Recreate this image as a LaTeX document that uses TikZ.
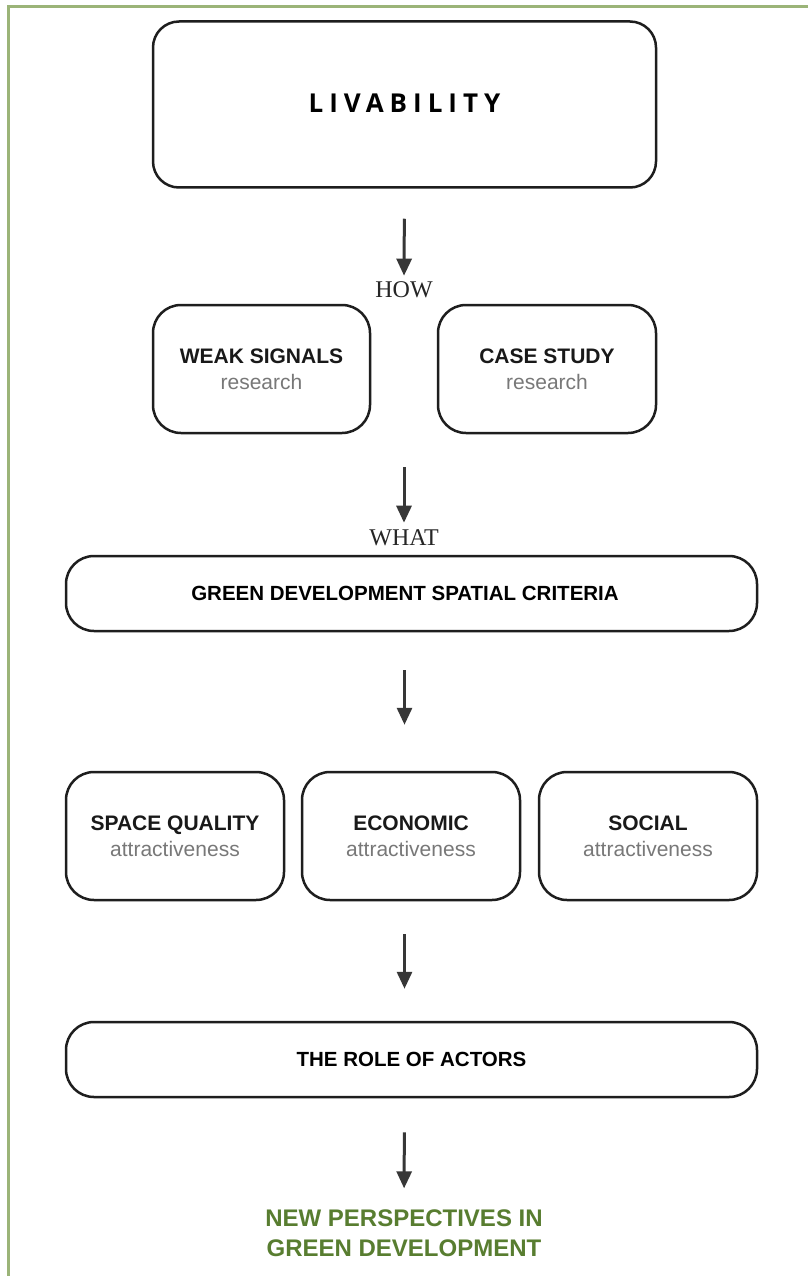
\documentclass[tikz,border=0pt]{standalone}
\usepackage{fontspec}
\setmainfont{Liberation Sans}
\newfontfamily\howfont{Liberation Serif}
\newfontfamily\livfont{Open Sans}[LetterSpace=23]
\usetikzlibrary{arrows.meta,calc}
\definecolor{boxline}{RGB}{30,30,30}
\definecolor{arrowcol}{RGB}{55,55,55}
\definecolor{subgray}{RGB}{120,120,120}
\definecolor{textgreen}{RGB}{88,125,48}
\definecolor{bordergreen}{RGB}{155,180,120}
\begin{document}
\begin{tikzpicture}[x=1pt,y=-1pt,
  box/.style={draw=boxline, line width=2.5pt, rounded corners=28pt, fill=white, inner sep=0pt, align=center},
  arr/.style={draw=arrowcol, line width=3pt, -{Triangle[length=17pt,width=15pt]}},
  title/.style={font=\fontsize{21}{26}\selectfont, text=black!90},
  label/.style={inner sep=0pt, font=\howfont\fontsize{24}{28}\selectfont, text=black!85}]
\useasboundingbox (0,0) rectangle (808,1276);
\fill[white] (0,0) rectangle (808,1276);
\draw[bordergreen, line width=3pt] (8,1276) -- (8,7) -- (808,7);

\node[box, minimum width=503pt, minimum height=166pt, rounded corners=26pt] (liv) at (404.5,104.5)
  {\raisebox{2pt}{\livfont\bfseries\fontsize{26}{30}\selectfont LIVABILITY}};
\node[label] (how) at (404,290) {HOW};

\node[box, title, minimum width=217pt, minimum height=128pt] (ws) at (261.5,369)
  {\bfseries WEAK SIGNALS\\\color{subgray}research};
\node[box, title, minimum width=218pt, minimum height=128pt] (cs) at (547,369)
  {\bfseries CASE STUDY\\\color{subgray}research};
\node[label] (what) at (404,538) {WHAT};

\node[box, minimum width=691pt, minimum height=75pt] (gd) at (411.5,593.5)
  {\hspace*{-13pt}\bfseries\fontsize{20.5}{24}\selectfont GREEN DEVELOPMENT SPATIAL CRITERIA};

\node[box, title, minimum width=218pt, minimum height=128pt] (sq) at (175,836)
  {\bfseries SPACE QUALITY\\\color{subgray}attractiveness};
\node[box, title, minimum width=218pt, minimum height=128pt] (ec) at (411,836)
  {\bfseries ECONOMIC\\\color{subgray}attractiveness};
\node[box, title, minimum width=218pt, minimum height=128pt] (so) at (648,836)
  {\bfseries SOCIAL\\\color{subgray}attractiveness};

\node[box, minimum width=691pt, minimum height=75pt] (act) at (411.5,1059.5)
  {\bfseries\fontsize{20.5}{24}\selectfont THE ROLE OF ACTORS};

\node[inner sep=0pt, align=center, text=textgreen, font=\bfseries\fontsize{24}{30}\selectfont] (np) at (404,1233)
  {NEW PERSPECTIVES IN\\GREEN DEVELOPMENT};

\draw[arr, shorten <=30pt, shorten >=6pt] (liv.south) -- (how.north);
\draw[arr, shorten <=33pt, shorten >=7pt] ($(ws.south east)!0.5!(cs.south west)$) -- (what.north);
\draw[arr, shorten <=38pt, shorten >=46pt] (liv.south |- gd.south) -- (liv.south |- ec.north);
\draw[arr, shorten <=33pt, shorten >=32pt] (liv.south |- ec.south) -- (liv.south |- act.north);
\draw[arr, shorten <=34pt, shorten >=21pt] (liv.south |- act.south) -- (np.north);
\end{tikzpicture}
\end{document}
